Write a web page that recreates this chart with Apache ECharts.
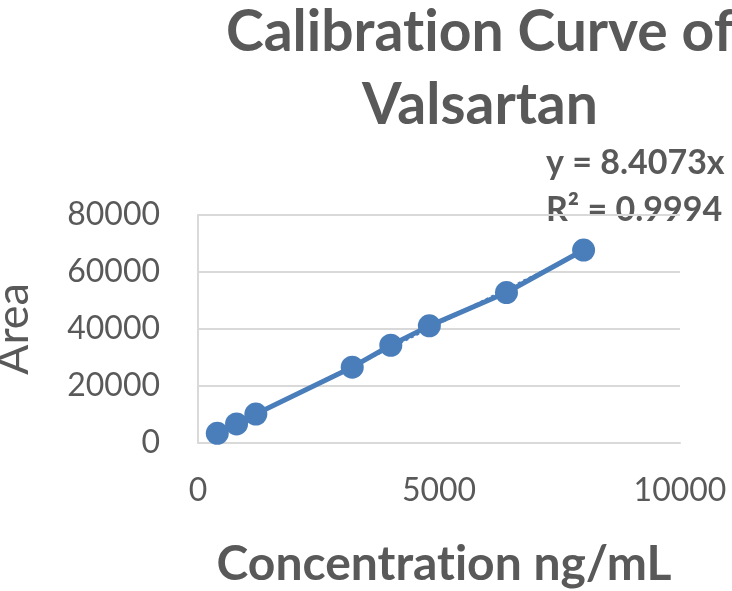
<!DOCTYPE html>
<html>
<head>
<meta charset="utf-8">
<script src="https://cdn.jsdelivr.net/npm/echarts@6/dist/echarts.min.js"></script>
<style>
    html, body { margin: 0; padding: 0; background: #fff; }
    #chart { width: 732px; height: 591px; }
</style>
</head>
<body>
<div id="chart"></div>
<script>
    // calibration standards
    let concentration = [400, 800, 1200, 3200, 4000, 4800, 6400, 8000];
    let area = [3400, 6700, 10150, 26600, 34300, 41100, 52800, 67700];

    // Excel-style linear trendline through origin
    let slope = 8.4073;
    let trendX = [400, 8000];
    let equationLines = ['y = 8.4073x', 'R² = 0.9994'];

    let xTicks = {min: 0, max: 10000, interval: 5000};
    let yTicks = {min: 0, max: 80000, interval: 20000};

    let textColor = '#595959';
    let blue = '#4A7EBB';
    let gridColor = '#D9D9D9';
    let font = 'Lato';

    let points = concentration.map(function (c, i) {
        return [c, area[i]];
    });
    let trend = trendX.map(function (c) {
        return [c, c * slope];
    });

    // plain numbers, no thousands separator
    let plain = function (v) {
        return String(v);
    };

    let chart = echarts.init(document.getElementById('chart'));
    let option = {
        backgroundColor: '#fff',
        animation: false,
        textStyle: {fontFamily: font},
        title: {
            // zero-width non-joiner keeps Lato from drawing its "ti" ligature
            text: 'Calibrat\u200Cion Curve of\nValsartan',
            left: 475,
            top: -9,
            textAlign: 'center',
            textStyle: {
                fontFamily: font,
                fontSize: 57,
                fontWeight: 'bold',
                color: textColor,
                lineHeight: 73
            }
        },
        grid: {
            left: 198,
            right: 52,
            top: 215,
            bottom: 148,
            outerBoundsMode: 'none',
            containLabel: false
        },
        xAxis: {
            type: 'value',
            min: xTicks.min,
            max: xTicks.max,
            interval: xTicks.interval,
            name: 'Concentrat\u200Cion ng/mL',
            nameLocation: 'middle',
            nameGap: 98,
            nameTextStyle: {
                fontFamily: font,
                fontSize: 48,
                fontWeight: 'bold',
                color: textColor,
                padding: [0, 0, 0, 10]
            },
            axisLine: {show: true, lineStyle: {color: gridColor, width: 2}},
            axisTick: {show: false},
            splitLine: {show: false},
            axisLabel: {
                fontFamily: font,
                fontSize: 32,
                color: textColor,
                margin: 32,
                formatter: plain
            }
        },
        yAxis: {
            type: 'value',
            min: yTicks.min,
            max: yTicks.max,
            interval: yTicks.interval,
            name: 'Area',
            nameLocation: 'middle',
            nameGap: 162,
            nameTextStyle: {
                fontFamily: font,
                fontSize: 45,
                color: textColor
            },
            axisLine: {show: true, lineStyle: {color: gridColor, width: 2}},
            axisTick: {show: false},
            splitLine: {show: true, lineStyle: {color: gridColor, width: 2}},
            axisLabel: {
                fontFamily: font,
                fontSize: 32,
                color: textColor,
                margin: 38,
                formatter: plain
            }
        },
        series: [
            {
                name: 'Area',
                type: 'line',
                data: points,
                symbol: 'circle',
                symbolSize: 23,
                itemStyle: {color: blue},
                lineStyle: {color: blue, width: 5},
                z: 2
            },
            {
                name: 'Linear (Area)',
                type: 'line',
                data: trend,
                symbol: 'none',
                lineStyle: {color: blue, width: 3, type: 'dotted'},
                z: 3
            }
        ],
        graphic: [
            {
                type: 'text',
                left: 546,
                top: 140,
                style: {
                    text: equationLines.join('\n'),
                    fontFamily: font,
                    fontSize: 34,
                    fontWeight: 'bold',
                    fill: textColor,
                    lineHeight: 47,
                    textAlign: 'left'
                }
            }
        ]
    };
    chart.setOption(option);
</script>
</body>
</html>
